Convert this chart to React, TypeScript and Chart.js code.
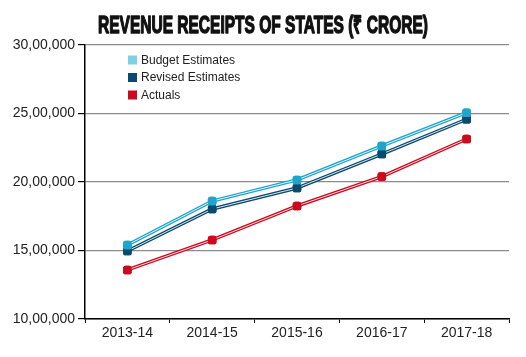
import React, { useEffect, useRef } from "react";
import { Chart, registerables } from "chart.js";

Chart.register(...registerables);

const categories = ["2013-14", "2014-15", "2015-16", "2016-17", "2017-18"];
const budgetEstimates = [1540000, 1861000, 2015000, 2263000, 2506000];
const revisedEstimates = [1496000, 1803000, 1956000, 2204000, 2458000];
const actuals = [1358000, 1577000, 1825000, 2039000, 2314000];
const yTicks = [1000000, 1500000, 2000000, 2500000, 3000000];
const titleText = "REVENUE RECEIPTS OF STATES (₹ CRORE)";

const seriesNames = ["Budget Estimates", "Revised Estimates", "Actuals"];
const lineColors = ["#1ea5c9", "#0b4a6f", "#cc0a1e"];
const legendColors = ["#80cfe2", "#0b4a6f", "#cc0a1e"];

function formatIndian(v: number): string {
  const s = Math.round(v).toString();
  if (s.length <= 3) return s;
  const last3 = s.slice(-3);
  let rest = s.slice(0, -3);
  const parts: string[] = [];
  while (rest.length > 2) {
    parts.unshift(rest.slice(-2));
    rest = rest.slice(0, -2);
  }
  if (rest) parts.unshift(rest);
  return parts.join(",") + "," + last3;
}

export default function App() {
  const ref = useRef<HTMLCanvasElement>(null);
  useEffect(() => {
    document.body.style.margin = "0";
    const canvas = ref.current!;
    const innerLine = {
      id: "innerLine",
      afterDatasetDraw(chart: any, args: any) {
        const meta = args.meta;
        const ctx = chart.ctx;
        const pts = meta.data;
        ctx.save();
        ctx.strokeStyle = "rgba(255,255,255,0.85)";
        ctx.lineWidth = 1;
        ctx.beginPath();
        pts.forEach((p: any, i: number) => {
          if (i === 0) ctx.moveTo(p.x, p.y);
          else ctx.lineTo(p.x, p.y);
        });
        ctx.stroke();
        ctx.restore();
        pts.forEach((p: any) => p.draw(ctx, chart.chartArea));
      },
    };
    const deco = {
      id: "deco",
      afterDraw(chart: any) {
        const ctx = chart.ctx;
        ctx.save();
        // title
        ctx.font = "bold 24px 'Liberation Sans Narrow', 'Liberation Sans', sans-serif";
        const w = ctx.measureText(titleText).width;
        const target = 330;
        const sx = target / w;
        ctx.translate(263, 33);
        ctx.scale(sx, 1);
        ctx.fillStyle = "#111";
        ctx.strokeStyle = "#111";
        ctx.lineWidth = 1.4;
        ctx.lineJoin = "round";
        ctx.textAlign = "center";
        ctx.textBaseline = "alphabetic";
        ctx.fillText(titleText, 0, 0);
        ctx.strokeText(titleText, 0, 0);
        ctx.restore();
        // legend
        ctx.save();
        ctx.font = "12px 'Liberation Sans', sans-serif";
        ctx.textBaseline = "middle";
        ctx.textAlign = "left";
        chart.data.datasets.forEach((ds: any, i: number) => {
          const cy = 60 + i * 17.5;
          ctx.fillStyle = legendColors[i];
          ctx.fillRect(128, cy - 4.5, 9, 9);
          ctx.fillStyle = "#222";
          ctx.fillText(ds.label, 141, cy + 0.5);
        });
        ctx.restore();
      },
    };
    const data = [budgetEstimates, revisedEstimates, actuals];
    const chart = new Chart(canvas, {
      type: "line",
      data: {
        labels: categories,
        datasets: seriesNames.map((name, i) => ({
          label: name,
          data: data[i],
          borderColor: lineColors[i],
          backgroundColor: lineColors[i],
          borderWidth: 3.5,
          pointStyle: "rectRounded",
          pointRadius: 5,
          pointBorderWidth: 0,
          pointBackgroundColor: lineColors[i],
          tension: 0,
          fill: false,
        })),
      },
      options: {
        animation: false,
        responsive: false,
        layout: { padding: { top: 45, right: 17, left: 0, bottom: 0 } },
        plugins: {
          legend: { display: false },
          title: { display: false },
          tooltip: { enabled: false },
        },
        scales: {
          x: {
            offset: true,
            grid: {
              offset: true,
              drawOnChartArea: false,
              tickLength: 4,
              tickColor: "#000",
            },
            border: { color: "#000", width: 1.5 },
            ticks: {
              color: "#222",
              font: { family: "'Liberation Sans', sans-serif", size: 14 },
              padding: 2,
            },
            afterFit(scale: any) {
              scale.height = 38;
            },
          },
          y: {
            min: 1000000,
            max: 3000000,
            afterBuildTicks(scale: any) {
              scale.ticks = yTicks.map((v) => ({ value: v }));
            },
            grid: {
              color: "#8c8c8c",
              tickColor: "#000",
              tickLength: 7,
              lineWidth: 1.2,
            },
            border: { color: "#000", width: 1.5 },
            ticks: {
              color: "#222",
              font: { family: "'Liberation Sans', sans-serif", size: 14 },
              padding: 3,
              callback: (v: any) => formatIndian(Number(v)),
            },
            afterFit(scale: any) {
              scale.width = 85;
            },
          },
        },
      },
      plugins: [innerLine, deco],
    } as any);
    return () => chart.destroy();
  }, []);
  return (
    <div style={{ width: 526, height: 357 }}>
      <canvas ref={ref} width={526} height={357} style={{ display: "block" }} />
    </div>
  );
}
